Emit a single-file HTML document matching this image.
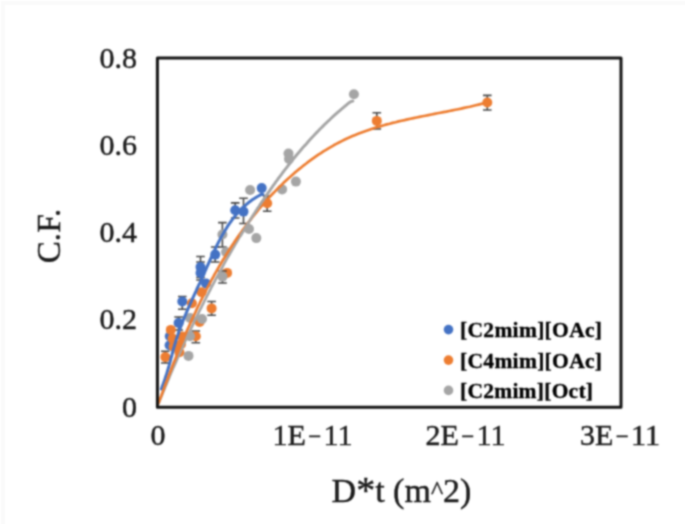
<!DOCTYPE html>
<html><head><meta charset="utf-8"><style>html,body{margin:0;padding:0;background:#fff;width:685px;height:524px;overflow:hidden}svg{display:block}</style></head>
<body><svg width="685" height="524" viewBox="0 0 685 524">
<defs><filter id="bl" x="0" y="0" width="685" height="524" filterUnits="userSpaceOnUse"><feConvolveMatrix color-interpolation-filters="sRGB" order="5" kernelMatrix="0.0009 0.0069 0.0139 0.0069 0.0009 0.0069 0.0554 0.1107 0.0554 0.0069 0.0139 0.1107 0.2211 0.1107 0.0139 0.0069 0.0554 0.1107 0.0554 0.0069 0.0009 0.0069 0.0139 0.0069 0.0009" edgeMode="duplicate"/></filter></defs>
<g filter="url(#bl)">
<rect x="0" y="0" width="685" height="524" fill="#fff"/>
<rect x="1" y="1" width="684" height="4" fill="#fafafa"/>
<rect x="1" y="1" width="4" height="523" fill="#fafafa"/>
<g font-family="'Liberation Serif', serif" fill="#1a1a1a" stroke="#1a1a1a" stroke-width="0.45">
<g font-size="30" text-anchor="end">
<text x="137" y="67.6">0.8</text>
<text x="137" y="154.8">0.6</text>
<text x="137" y="242.1">0.4</text>
<text x="137" y="329.4">0.2</text>
<text x="137" y="416.7">0</text>
</g>
<g font-size="30" text-anchor="middle">
<text x="158" y="444.8">0</text>
<text x="312.5" y="444.8">1E<tspan font-size="23" dx="2.3" dy="-1.2">&#8722;</tspan><tspan dx="2.3" dy="1.2">11</tspan></text>
<text x="465.5" y="444.8">2E<tspan font-size="23" dx="2.3" dy="-1.2">&#8722;</tspan><tspan dx="2.3" dy="1.2">11</tspan></text>
<text x="620" y="444.8">3E<tspan font-size="23" dx="2.3" dy="-1.2">&#8722;</tspan><tspan dx="2.3" dy="1.2">11</tspan></text>
</g>
<text x="401.5" y="502" font-size="34" text-anchor="middle">D<tspan font-size="38" dy="1">*</tspan><tspan dy="-1">t (m</tspan><tspan font-size="26" dy="-3">^</tspan><tspan dy="3">2)</tspan></text>
<text transform="translate(60,236) rotate(-90)" font-size="33" text-anchor="middle" textLength="54.5" lengthAdjust="spacingAndGlyphs">C.F.</text>
</g>
<g stroke="#4a4a4a" stroke-width="1.6" fill="none"><path d="M178.6,317.0V330.0M174.3,317.0H182.9M174.3,330.0H182.9"/><path d="M182.3,296.5V309.3M178.0,296.5H186.6M178.0,309.3H186.6"/><path d="M200.5,256.5V277.5M196.2,256.5H204.8M196.2,277.5H204.8"/><path d="M200.5,262.0V280.0M196.2,262.0H204.8M196.2,280.0H204.8"/><path d="M215.2,247.0V262.0M210.9,247.0H219.5M210.9,262.0H219.5"/><path d="M235.2,202.9V218.0M230.9,202.9H239.5M230.9,218.0H239.5"/><path d="M243.5,198.3V223.5M239.2,198.3H247.8M239.2,223.5H247.8"/></g>
<circle cx="169.6" cy="345.3" r="5.0" fill="#4472C4"/><circle cx="169.8" cy="336.2" r="5.0" fill="#4472C4"/><circle cx="178.6" cy="323.0" r="5.0" fill="#4472C4"/><circle cx="182.3" cy="301.5" r="5.0" fill="#4472C4"/><circle cx="200.5" cy="267.0" r="5.0" fill="#4472C4"/><circle cx="200.5" cy="273.0" r="5.0" fill="#4472C4"/><circle cx="206.0" cy="283.5" r="5.0" fill="#4472C4"/><circle cx="215.2" cy="254.6" r="5.0" fill="#4472C4"/><circle cx="235.2" cy="210.2" r="5.0" fill="#4472C4"/><circle cx="243.5" cy="211.6" r="5.0" fill="#4472C4"/><circle cx="261.7" cy="188.1" r="5.0" fill="#4472C4"/>
<g stroke="#4a4a4a" stroke-width="1.6" fill="none"><path d="M165.3,351.3V363.0M161.0,351.3H169.6M161.0,363.0H169.6"/><path d="M195.8,331.0V342.7M191.5,331.0H200.1M191.5,342.7H200.1"/><path d="M211.6,301.5V315.2M207.3,301.5H215.9M207.3,315.2H215.9"/><path d="M267.2,196.0V211.2M262.9,196.0H271.5M262.9,211.2H271.5"/><path d="M376.8,112.7V129.0M372.5,112.7H381.1M372.5,129.0H381.1"/><path d="M487.3,95.4V110.0M483.0,95.4H491.6M483.0,110.0H491.6"/></g>
<circle cx="165.3" cy="357.1" r="5.0" fill="#ED7D31"/><circle cx="170.8" cy="329.9" r="5.0" fill="#ED7D31"/><circle cx="172.6" cy="338.6" r="5.0" fill="#ED7D31"/><circle cx="173.6" cy="346.8" r="5.0" fill="#ED7D31"/><circle cx="182.2" cy="336.4" r="5.0" fill="#ED7D31"/><circle cx="181.0" cy="344.3" r="5.0" fill="#ED7D31"/><circle cx="179.4" cy="352.3" r="5.0" fill="#ED7D31"/><circle cx="191.9" cy="303.3" r="5.0" fill="#ED7D31"/><circle cx="199.6" cy="322.0" r="5.0" fill="#ED7D31"/><circle cx="195.8" cy="336.3" r="5.0" fill="#ED7D31"/><circle cx="211.6" cy="308.4" r="5.0" fill="#ED7D31"/><circle cx="201.5" cy="292.3" r="5.0" fill="#ED7D31"/><circle cx="227.1" cy="272.9" r="5.0" fill="#ED7D31"/><circle cx="267.2" cy="203.2" r="5.0" fill="#ED7D31"/><circle cx="376.8" cy="120.9" r="5.0" fill="#ED7D31"/><circle cx="487.3" cy="102.5" r="5.0" fill="#ED7D31"/>
<g stroke="#4a4a4a" stroke-width="1.6" fill="none"><path d="M222.5,271.0V283.0M218.2,271.0H226.8M218.2,283.0H226.8"/><path d="M222.4,222.6V247.0M218.1,222.6H226.7M218.1,247.0H226.7"/></g>
<circle cx="188.5" cy="355.9" r="5.0" fill="#A5A5A5"/><circle cx="190.0" cy="336.3" r="5.0" fill="#A5A5A5"/><circle cx="190.0" cy="318.0" r="5.0" fill="#A5A5A5"/><circle cx="202.0" cy="319.0" r="5.0" fill="#A5A5A5"/><circle cx="222.5" cy="276.6" r="5.0" fill="#A5A5A5"/><circle cx="222.4" cy="234.5" r="5.0" fill="#A5A5A5"/><circle cx="226.0" cy="252.0" r="5.0" fill="#A5A5A5"/><circle cx="249.0" cy="229.0" r="5.0" fill="#A5A5A5"/><circle cx="256.3" cy="238.1" r="5.0" fill="#A5A5A5"/><circle cx="250.1" cy="190.0" r="5.0" fill="#A5A5A5"/><circle cx="282.1" cy="189.4" r="5.0" fill="#A5A5A5"/><circle cx="295.9" cy="181.6" r="5.0" fill="#A5A5A5"/><circle cx="288.5" cy="153.5" r="5.0" fill="#A5A5A5"/><circle cx="289.0" cy="159.0" r="5.0" fill="#A5A5A5"/><circle cx="353.9" cy="94.2" r="5.0" fill="#A5A5A5"/>
<g fill="none" stroke-width="3.2" stroke-linecap="round" stroke-linejoin="round">
<path d="M161.4,389.0 L161.8,387.7 L162.3,386.4 L162.8,385.0 L163.3,383.7 L163.8,382.4 L164.3,381.1 L164.7,379.7 L165.2,378.4 L165.6,377.0 L166.0,375.7 L166.5,374.3 L166.9,373.0 L167.3,371.6 L167.7,370.2 L168.1,368.9 L168.5,367.5 L168.9,366.1 L169.2,364.8 L169.6,363.4 L170.0,362.0 L170.4,360.6 L170.7,359.2 L171.1,357.9 L171.5,356.5 L171.9,355.1 L172.2,353.7 L172.6,352.4 L173.0,351.0 L173.3,349.6 L173.7,348.2 L174.1,346.9 L174.5,345.5 L174.9,344.1 L175.3,342.8 L175.7,341.4 L176.1,340.1 L176.5,338.7 L177.0,337.4 L177.4,336.0 L177.9,334.7 L178.3,333.4 L178.8,332.1 L179.2,330.7 L179.7,329.4 L180.2,328.1 L180.7,326.8 L181.2,325.5 L181.7,324.2 L182.2,322.9 L182.7,321.6 L183.2,320.3 L183.7,319.0 L184.2,317.7 L184.8,316.4 L185.3,315.1 L185.9,313.8 L186.4,312.5 L187.0,311.2 L187.5,310.0 L188.1,308.7 L188.6,307.4 L189.2,306.1 L189.8,304.8 L190.3,303.5 L190.9,302.3 L191.5,301.0 L192.1,299.7 L192.6,298.4 L193.2,297.2 L193.8,295.9 L194.4,294.6 L195.0,293.3 L195.6,292.0 L196.2,290.8 L196.7,289.5 L197.3,288.2 L197.9,286.9 L198.5,285.6 L199.1,284.3 L199.7,283.1 L200.3,281.8 L200.9,280.5 L201.5,279.2 L202.1,277.9 L202.7,276.6 L203.2,275.3 L203.8,274.0 L204.4,272.7 L205.0,271.4 L205.6,270.0 L206.2,268.7 L206.7,267.4 L207.3,266.1 L207.9,264.8 L208.5,263.5 L209.1,262.2 L209.7,260.8 L210.3,259.5 L210.9,258.2 L211.5,256.9 L212.1,255.6 L212.7,254.3 L213.3,253.0 L213.9,251.7 L214.5,250.4 L215.1,249.1 L215.7,247.8 L216.3,246.5 L217.0,245.2 L217.6,243.9 L218.3,242.7 L218.9,241.4 L219.6,240.1 L220.2,238.9 L220.9,237.6 L221.6,236.4 L222.3,235.1 L223.0,233.9 L223.7,232.7 L224.4,231.5 L225.1,230.3 L225.9,229.1 L226.6,227.9 L227.3,226.7 L228.1,225.5 L228.9,224.4 L229.7,223.2 L230.5,222.1 L231.3,221.0 L232.1,219.8 L232.9,218.7 L233.8,217.6 L234.6,216.6 L235.5,215.5 L236.4,214.4 L237.3,213.4 L238.2,212.4 L239.1,211.3 L240.1,210.3 L241.1,209.4 L242.0,208.4 L243.0,207.4 L244.0,206.5 L245.1,205.6 L246.1,204.6 L247.2,203.8 L248.2,202.9 L249.3,202.0 L250.4,201.2 L251.6,200.3 L252.7,199.5 L253.9,198.8 L255.1,198.0 L256.3,197.2 L257.5,196.5 L258.8,195.8 L260.0,195.1 L261.3,194.4 L263.0,194.5" stroke="#4472C4" stroke-width="3"/>
<path d="M158.2,404.0 L159.2,401.9 L160.0,399.7 L160.9,397.6 L161.8,395.5 L162.6,393.4 L163.5,391.3 L164.4,389.2 L165.2,387.1 L166.1,385.0 L167.0,382.9 L167.9,380.8 L168.8,378.7 L169.6,376.6 L170.5,374.5 L171.4,372.3 L172.3,370.2 L173.2,368.1 L174.1,366.1 L175.1,364.0 L176.0,361.9 L176.9,359.8 L177.8,357.7 L178.7,355.6 L179.7,353.5 L180.6,351.4 L181.5,349.3 L182.5,347.2 L183.4,345.1 L184.4,343.1 L185.3,341.0 L186.3,338.9 L187.2,336.8 L188.2,334.7 L189.2,332.7 L190.1,330.6 L191.1,328.5 L192.1,326.4 L193.1,324.4 L194.0,322.3 L195.0,320.2 L196.0,318.2 L197.0,316.1 L198.0,314.1 L199.0,312.0 L200.0,309.9 L201.1,307.9 L202.1,305.8 L203.1,303.8 L204.1,301.7 L205.2,299.7 L206.2,297.6 L207.2,295.6 L208.3,293.6 L209.3,291.5 L210.4,289.5 L211.4,287.5 L212.5,285.4 L213.6,283.4 L214.7,281.4 L215.7,279.3 L216.8,277.3 L217.9,275.3 L219.0,273.3 L220.1,271.3 L221.2,269.3 L222.3,267.3 L223.4,265.2 L224.5,263.2 L225.6,261.2 L226.7,259.2 L227.9,257.2 L229.0,255.3 L230.1,253.3 L231.3,251.3 L232.4,249.3 L233.6,247.3 L234.7,245.3 L235.9,243.4 L237.1,241.4 L238.2,239.4 L239.4,237.4 L240.6,235.5 L241.8,233.5 L243.0,231.6 L244.2,229.6 L245.4,227.7 L246.6,225.7 L247.8,223.8 L249.0,221.8 L250.3,219.9 L251.5,217.9 L252.7,216.0 L254.0,214.1 L255.2,212.1 L256.5,210.2 L257.7,208.3 L259.0,206.4 L260.2,204.5 L261.5,202.6 L262.8,200.7 L264.1,198.8 L265.4,196.9 L266.7,195.0 L268.0,193.1 L269.3,191.2 L270.6,189.3 L271.9,187.4 L273.2,185.6 L274.6,183.7 L275.9,181.8 L277.3,180.0 L278.6,178.1 L280.0,176.3 L281.4,174.5 L282.7,172.6 L284.1,170.8 L285.5,169.0 L286.9,167.2 L288.3,165.4 L289.7,163.6 L291.2,161.8 L292.6,160.0 L294.0,158.2 L295.5,156.4 L296.9,154.7 L298.4,152.9 L299.9,151.2 L301.4,149.4 L302.8,147.7 L304.3,146.0 L305.9,144.3 L307.4,142.6 L308.9,140.9 L310.4,139.2 L312.0,137.5 L313.5,135.8 L315.1,134.2 L316.7,132.5 L318.3,130.9 L319.9,129.2 L321.5,127.6 L323.1,126.0 L324.7,124.4 L326.4,122.8 L328.0,121.2 L329.7,119.7 L331.3,118.1 L333.0,116.5 L334.7,115.0 L336.4,113.5 L338.1,112.0 L339.9,110.5 L341.6,109.0 L343.4,107.5 L345.1,106.0 L346.9,104.6 L348.7,103.1 L350.5,101.7 L352.9,101.1" stroke="#A5A5A5" stroke-width="2.6"/>
<path d="M158.0,404.0 L159.3,401.1 L160.3,398.3 L161.4,395.5 L162.4,392.7 L163.4,389.9 L164.4,387.1 L165.5,384.3 L166.5,381.6 L167.6,378.8 L168.6,376.0 L169.7,373.2 L170.8,370.4 L171.9,367.6 L172.9,364.8 L174.0,362.0 L175.2,359.2 L176.3,356.4 L177.4,353.6 L178.5,350.8 L179.7,348.0 L180.8,345.2 L182.0,342.4 L183.2,339.6 L184.3,336.8 L185.5,334.1 L186.7,331.3 L187.9,328.5 L189.2,325.7 L190.4,323.0 L191.6,320.2 L192.9,317.5 L194.2,314.7 L195.5,312.0 L196.7,309.2 L198.0,306.5 L199.4,303.8 L200.7,301.0 L202.0,298.3 L203.4,295.6 L204.8,292.9 L206.1,290.2 L207.5,287.5 L209.0,284.9 L210.4,282.2 L211.8,279.5 L213.3,276.9 L214.7,274.2 L216.2,271.6 L217.7,269.0 L219.2,266.3 L220.8,263.7 L222.3,261.1 L223.9,258.6 L225.4,256.0 L227.0,253.4 L228.6,250.9 L230.3,248.3 L231.9,245.8 L233.6,243.3 L235.2,240.8 L236.9,238.3 L238.6,235.8 L240.4,233.4 L242.1,230.9 L243.9,228.5 L245.7,226.0 L247.5,223.6 L249.3,221.2 L251.1,218.9 L253.0,216.5 L254.9,214.1 L256.8,211.8 L258.7,209.5 L260.6,207.2 L262.6,204.9 L264.6,202.6 L266.6,200.4 L268.6,198.2 L270.6,195.9 L272.7,193.7 L274.8,191.6 L276.9,189.4 L279.0,187.3 L281.2,185.2 L283.3,183.1 L285.5,181.0 L287.7,178.9 L290.0,176.9 L292.2,174.9 L294.5,172.9 L296.8,171.0 L299.1,169.1 L301.5,167.2 L303.8,165.3 L306.2,163.5 L308.6,161.6 L311.0,159.9 L313.5,158.1 L315.9,156.4 L318.4,154.7 L320.9,153.1 L323.4,151.4 L326.0,149.9 L328.5,148.3 L331.1,146.8 L333.7,145.3 L336.3,143.9 L339.0,142.5 L341.7,141.1 L344.3,139.8 L347.0,138.5 L349.8,137.3 L352.5,136.1 L355.3,134.9 L358.1,133.8 L360.9,132.7 L363.7,131.7 L366.5,130.7 L369.4,129.7 L372.2,128.7 L375.1,127.8 L378.0,126.9 L380.9,126.1 L383.8,125.3 L386.8,124.4 L389.7,123.7 L392.6,122.9 L395.6,122.2 L398.6,121.4 L401.5,120.7 L404.5,120.1 L407.5,119.4 L410.5,118.7 L413.5,118.1 L416.5,117.5 L419.5,116.9 L422.4,116.3 L425.4,115.7 L428.4,115.1 L431.4,114.5 L434.4,113.9 L437.4,113.3 L440.4,112.7 L443.4,112.1 L446.4,111.6 L449.3,111.0 L452.3,110.4 L455.3,109.8 L458.2,109.2 L461.1,108.6 L464.1,107.9 L467.0,107.3 L469.9,106.7 L472.8,106.0 L475.7,105.3 L478.6,104.6 L481.4,103.9 L484.3,103.2 L487.3,102.5" stroke="#ED7D31" stroke-width="2.7"/>
<path d="M240.6,235.5 L241.8,233.5 L243.0,231.6 L244.2,229.6 L245.4,227.7 L246.6,225.7 L247.8,223.8 L249.0,221.8 L250.3,219.9 L251.5,217.9 L252.7,216.0 L254.0,214.1 L255.2,212.1 L256.5,210.2 L257.7,208.3 L259.0,206.4 L260.2,204.5 L261.5,202.6 L262.8,200.7 L264.1,198.8 L265.4,196.9 L266.7,195.0 L268.0,193.1 L269.3,191.2 L270.6,189.3 L271.9,187.4 L273.2,185.6 L274.6,183.7 L275.9,181.8 L277.3,180.0 L278.6,178.1 L280.0,176.3 L281.4,174.5 L282.7,172.6 L284.1,170.8 L285.5,169.0 L286.9,167.2 L288.3,165.4 L289.7,163.6 L291.2,161.8 L292.6,160.0 L294.0,158.2 L295.5,156.4 L296.9,154.7 L298.4,152.9 L299.9,151.2 L301.4,149.4 L302.8,147.7 L304.3,146.0 L305.9,144.3 L307.4,142.6 L308.9,140.9 L310.4,139.2 L312.0,137.5 L313.5,135.8 L315.1,134.2 L316.7,132.5 L318.3,130.9 L319.9,129.2 L321.5,127.6 L323.1,126.0 L324.7,124.4 L326.4,122.8 L328.0,121.2 L329.7,119.7 L331.3,118.1 L333.0,116.5 L334.7,115.0 L336.4,113.5 L338.1,112.0 L339.9,110.5 L341.6,109.0 L343.4,107.5 L345.1,106.0 L346.9,104.6 L348.7,103.1 L350.5,101.7 L352.9,101.1" stroke="#A5A5A5" stroke-width="2.6"/>
</g>
<rect x="157.4" y="58.1" width="463.6" height="349.2" fill="none" stroke="#141414" stroke-width="3" stroke-linejoin="round"/>
<g font-family="'Liberation Serif', serif" font-weight="bold" font-size="21.5" fill="#000" stroke="#000" stroke-width="0.35">
<circle cx="448.5" cy="329.6" r="4.8" fill="#4472C4" stroke="none"/>
<circle cx="448.5" cy="360.1" r="4.8" fill="#ED7D31" stroke="none"/>
<circle cx="448.5" cy="390.4" r="4.8" fill="#A5A5A5" stroke="none"/>
<text x="460" y="337.2" textLength="142" lengthAdjust="spacing">[C2mim][OAc]</text>
<text x="460" y="367.7" textLength="142" lengthAdjust="spacing">[C4mim][OAc]</text>
<text x="460" y="398.2" textLength="133" lengthAdjust="spacing">[C2mim][Oct]</text>
</g>
</g>
</svg></body></html>
